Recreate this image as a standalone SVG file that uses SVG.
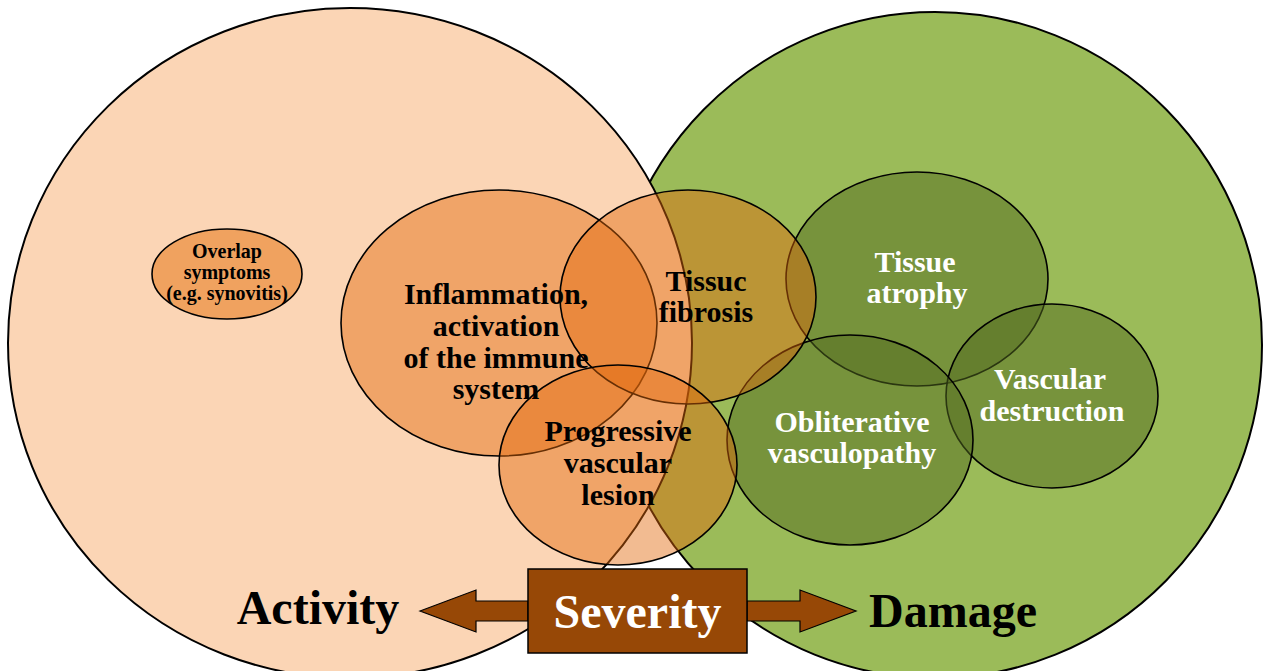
<svg xmlns="http://www.w3.org/2000/svg" width="1269" height="671" viewBox="0 0 1269 671">
<style>
.big{stroke:#000;stroke-width:2}
.ell{stroke:#000;stroke-width:1.6}
.org{fill:#E3680A;fill-opacity:0.45}
.dkg{fill:#536B1F;fill-opacity:0.5}
text{font-family:"Liberation Serif","Times New Roman",serif;font-weight:bold;text-anchor:middle}
.lb{font-size:30px;fill:#000}
.lw{font-size:30px;fill:#fff}
.sm{font-size:20px;fill:#000}
.ttl{font-size:48px;fill:#000}
.arr{fill:#974806;stroke:#000;stroke-width:1.2}
</style>
<rect width="1269" height="671" fill="#fff"/>
<g id="damage">
<ellipse class="big" cx="935" cy="345" rx="327" ry="333" fill="#9BBB59"/>
</g>
<g id="activity">
<ellipse class="big" cx="350" cy="343" rx="342" ry="335" fill="#FBD5B5"/>
</g>
<g id="overlap">
<ellipse class="ell" cx="227" cy="274" rx="75" ry="45" fill="#F0A25F"/>
<text class="sm" x="227" y="258">Overlap</text>
<text class="sm" x="227" y="279">symptoms</text>
<text class="sm" x="227" y="300">(e.g. synovitis)</text>
</g>
<g id="atrophy">
<ellipse class="ell dkg" cx="917" cy="279" rx="131" ry="107"/>
</g>
<g id="vascular-destruction">
<ellipse class="ell dkg" cx="1052" cy="396" rx="106" ry="92"/>
</g>
<g id="obliterative">
<ellipse class="ell dkg" cx="850" cy="440" rx="123" ry="105"/>
</g>
<g id="inflammation">
<ellipse class="ell org" cx="499" cy="323" rx="158" ry="133"/>
</g>
<g id="fibrosis">
<ellipse class="ell org" cx="688" cy="297" rx="128" ry="107"/>
</g>
<g id="progressive">
<ellipse class="ell org" cx="618" cy="465" rx="119" ry="100"/>
</g>
<g id="labels">
<text class="lb" x="496" y="304">Inflammation,</text>
<text class="lb" x="496" y="336">activation</text>
<text class="lb" x="496" y="368">of the immune</text>
<text class="lb" x="496" y="399">system</text>
<text class="lb" x="706" y="291">Tissuc</text>
<text class="lb" x="706" y="322">fibrosis</text>
<text class="lb" x="618" y="441">Progressive</text>
<text class="lb" x="618" y="473">vascular</text>
<text class="lb" x="618" y="505">lesion</text>
<text class="lw" x="915" y="272">Tissue</text>
<text class="lw" x="917" y="303">atrophy</text>
<text class="lw" x="852" y="432">Obliterative</text>
<text class="lw" x="852" y="463">vasculopathy</text>
<text class="lw" x="1050" y="389">Vascular</text>
<text class="lw" x="1052" y="421">destruction</text>
</g>
<g id="connectors">
<polygon class="arr" points="420,611 476,590 476,601 528,601 528,621 476,621 476,632"/>
<polygon class="arr" points="747,601 800,601 800,590 856,611 800,632 800,621 747,621"/>
</g>
<g id="severity">
<rect x="528" y="569" width="219" height="84" fill="#974806" stroke="#000" stroke-width="1.5"/>
<text class="ttl" x="637.5" y="628" style="fill:#fff">Severity</text>
</g>
<g id="activity-label"><text class="ttl" x="318" y="624">Activity</text></g>
<g id="damage-label"><text class="ttl" x="953" y="627">Damage</text></g>
</svg>
